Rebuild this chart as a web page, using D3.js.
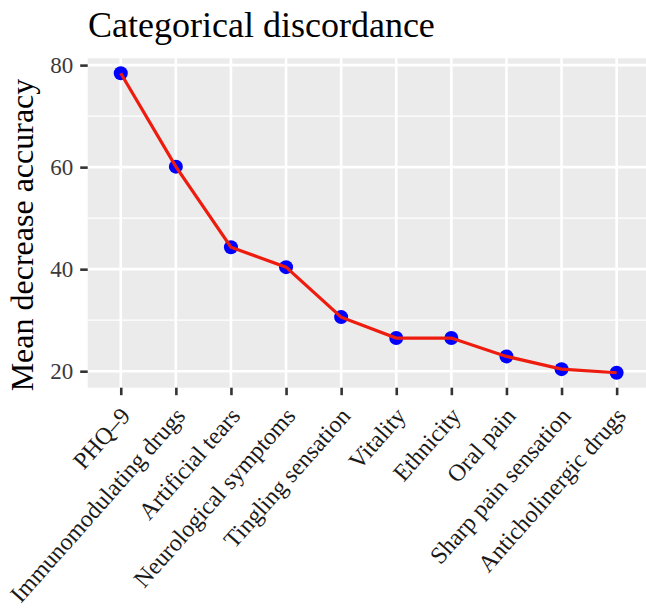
<!DOCTYPE html>
<html>
<head>
<meta charset="utf-8">
<script src="https://cdn.jsdelivr.net/npm/d3@7"></script>
<style>
  body { margin: 0; background: #fff; }
  text { font-family: "Liberation Serif", "DejaVu Serif", serif; }
</style>
</head>
<body>
<div id="chart"></div>
<script>
// data
var features = ["PHQ–9", "Immunomodulating drugs", "Artificial tears", "Neurological symptoms",
  "Tingling sensation", "Vitality", "Ethnicity", "Oral pain", "Sharp pain sensation", "Anticholinergic drugs"];
var accuracy = [78.4, 60.1, 44.3, 40.4, 30.6, 26.5, 26.5, 22.9, 20.4, 19.7];
var yTicks = [20, 40, 60, 80];
var yMinor = [30, 50, 70];

var W = 646, H = 612;
var panel = {left: 87.7, right: 649.7, top: 58.3, bottom: 387.7};

var svg = d3.select("#chart").append("svg")
  .attr("width", W)
  .attr("height", H);

// x: discrete, ggplot style 0.6 expansion on each side
var x = d3.scalePoint()
  .domain(features)
  .range([panel.left, panel.right])
  .padding(0.6);

// y: 5% expansion of data range
var lo = d3.min(accuracy), hi = d3.max(accuracy), pad = (hi - lo) * 0.05;
var y = d3.scaleLinear()
  .domain([lo - pad, hi + pad])
  .range([panel.bottom, panel.top]);

// panel background
svg.append("rect")
  .attr("x", panel.left).attr("y", panel.top)
  .attr("width", panel.right - panel.left)
  .attr("height", panel.bottom - panel.top)
  .attr("fill", "#EBEBEB");

// grid
svg.append("g").selectAll("line").data(yMinor).enter().append("line")
  .attr("x1", panel.left).attr("x2", panel.right)
  .attr("y1", function(d) { return y(d); }).attr("y2", function(d) { return y(d); })
  .attr("stroke", "#fff").attr("stroke-width", 1.3);
svg.append("g").selectAll("line").data(yTicks).enter().append("line")
  .attr("x1", panel.left).attr("x2", panel.right)
  .attr("y1", function(d) { return y(d); }).attr("y2", function(d) { return y(d); })
  .attr("stroke", "#fff").attr("stroke-width", 2.6);
svg.append("g").selectAll("line").data(features).enter().append("line")
  .attr("y1", panel.top).attr("y2", panel.bottom)
  .attr("x1", function(d) { return x(d); }).attr("x2", function(d) { return x(d); })
  .attr("stroke", "#fff").attr("stroke-width", 2.6);

// y axis
var yAxis = svg.append("g")
  .attr("transform", "translate(" + panel.left + ",0)")
  .call(d3.axisLeft(y).tickValues(yTicks).tickSize(7.5).tickPadding(7));
yAxis.select(".domain").remove();
yAxis.selectAll(".tick line").attr("stroke", "#333").attr("stroke-width", 2.6);
yAxis.selectAll(".tick text")
  .attr("fill", "#3a3a3a")
  .attr("font-family", "Liberation Serif")
  .attr("font-size", 23);

// x axis
var xAxis = svg.append("g")
  .attr("transform", "translate(0," + panel.bottom + ")")
  .call(d3.axisBottom(x).tickSize(7.5).tickFormat(""));
xAxis.select(".domain").remove();
xAxis.selectAll(".tick line").attr("stroke", "#333").attr("stroke-width", 2.6);

svg.append("g").selectAll("text").data(features).enter().append("text")
  .attr("transform", function(d) { return "translate(" + (x(d) - 2) + "," + (panel.bottom + 18) + ") rotate(-48.5)"; })
  .attr("text-anchor", "end")
  .attr("dy", "0.7em")
  .attr("fill", "#1a1a1a")
  .attr("font-size", 24)
  .text(function(d) { return d; });

// line + points
var line = d3.line()
  .x(function(d, i) { return x(features[i]); })
  .y(function(d) { return y(d); });

svg.append("g").selectAll("circle").data(accuracy).enter().append("circle")
  .attr("cx", function(d, i) { return x(features[i]); })
  .attr("cy", function(d) { return y(d); })
  .attr("r", 7)
  .attr("fill", "#0000FF");

// line sits on top of the points in the reference
svg.append("path")
  .datum(accuracy)
  .attr("d", line)
  .attr("fill", "none")
  .attr("stroke", "#EE1C0E")
  .attr("stroke-width", 3.2);

// titles
svg.append("text")
  .attr("x", 88).attr("y", 37)
  .attr("fill", "#000")
  .attr("font-size", 36)
  .text("Categorical discordance");

svg.append("text")
  .attr("transform", "translate(33,235) rotate(-90)")
  .attr("text-anchor", "middle")
  .attr("fill", "#000")
  .attr("font-size", 32)
  .text("Mean decrease accuracy");
</script>
</body>
</html>
